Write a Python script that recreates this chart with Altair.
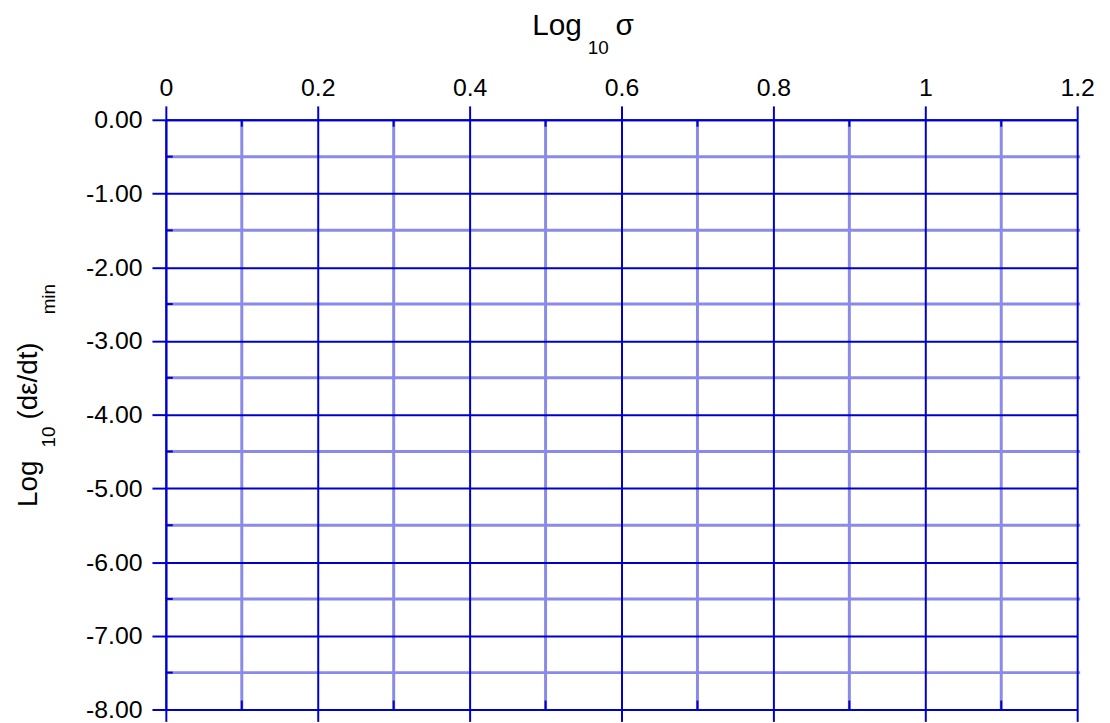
import altair as alt
import pandas as pd

# ---- data (axis ticks / labels) ----
x_ticks = [0, 0.2, 0.4, 0.6, 0.8, 1.0, 1.2]
x_minor = [0.1, 0.3, 0.5, 0.7, 0.9, 1.1]
y_ticks = [0, -1, -2, -3, -4, -5, -6, -7, -8]
y_minor = [-0.5, -1.5, -2.5, -3.5, -4.5, -5.5, -6.5, -7.5]
x_domain = [0, 1.2]
y_domain = [-8, 0]

top_title = ["Log", "10", "\u03c3"]
left_title = ["Log", "10", "(d\u03b5/dt)", "min"]

# ---- style ----
FONT = "Liberation Sans"
MAJOR = "#0000CC"
MINOR = "#8a8ae8"
W, H = 918, 594

xs = alt.Scale(domain=x_domain, nice=False, zero=False)
ys = alt.Scale(domain=y_domain, nice=False, zero=False)

common = dict(
    tickColor=MAJOR, tickWidth=2, domainColor=MAJOR, domainWidth=2,
    labelFont=FONT, labelFontSize=25, labelColor="black",
    title=None, zindex=1, labelFlush=False, labelOverlap=False,
)

top_axis = alt.Axis(orient="top", values=x_ticks, format="~g", grid=True,
                    gridColor=MAJOR, gridWidth=2, gridOpacity=1,
                    tickSize=14, labelPadding=5, **common)
bottom_axis = alt.Axis(orient="bottom", values=x_ticks, labels=False, grid=False,
                       tickSize=12, **common)
left_axis = alt.Axis(orient="left", values=y_ticks, grid=True,
                     gridColor=MAJOR, gridWidth=2, gridOpacity=1,
                     tickSize=14, labelPadding=10,
                     labelExpr="replace(format(datum.value, '.2f'), '\u2212', '-')",
                     **common)

df_xm = pd.DataFrame({"xm": x_minor})
df_ym = pd.DataFrame({"ym": y_minor})

minor_v = alt.Chart(df_xm).mark_rule(color=MINOR, strokeWidth=3).encode(
    x=alt.X("xm:Q", scale=xs, axis=top_axis),
    y=alt.value(0), y2=alt.value(H + 1),
)
minor_h = alt.Chart(df_ym).mark_rule(color=MINOR, strokeWidth=3).encode(
    y=alt.Y("ym:Q", scale=ys, axis=left_axis),
    x=alt.value(0), x2=alt.value(W + 3),
)
ticks_top = alt.Chart(df_xm).mark_rule(color=MAJOR, strokeWidth=2).encode(
    x=alt.X("xm:Q", scale=xs, axis=bottom_axis),
    y=alt.value(0), y2=alt.value(7),
)
ticks_bottom = alt.Chart(df_xm).mark_rule(color=MAJOR, strokeWidth=2).encode(
    x=alt.X("xm:Q", scale=xs, axis=None),
    y=alt.value(H - 9), y2=alt.value(H),
)
ticks_left = alt.Chart(df_ym).mark_rule(color=MAJOR, strokeWidth=2).encode(
    y=alt.Y("ym:Q", scale=ys, axis=None),
    x=alt.value(0), x2=alt.value(7),
)


def txt(s, x, y, size, angle=0):
    return alt.Chart(pd.DataFrame({"t": [s]})).mark_text(
        align="left", baseline="alphabetic", font=FONT, fontSize=size,
        angle=angle, color="black",
    ).encode(text="t:N", x=alt.value(x), y=alt.value(y))


titles = [
    txt(top_title[0], 369, -85, 30),
    txt(top_title[1], 425, -66, 19),
    txt(top_title[2], 453, -85, 30),
    txt(left_title[0], -130, 390, 28, 270),
    txt(left_title[1], -112, 330, 19, 270),
    txt(left_title[2], -130, 302, 28, 270),
    txt(left_title[3], -112, 196, 19, 270),
]

chart = alt.layer(minor_v, minor_h, ticks_top, ticks_bottom, ticks_left, *titles).resolve_axis(
    x="independent", y="independent"
).properties(
    width=W, height=H,
    padding={"left": 159, "top": 110, "right": 25, "bottom": 11},
    autosize=alt.AutoSizeParams(type="none"),
    background="white",
).configure_view(stroke=None)

chart.save("out.html", embed_options={"renderer": "svg", "actions": False})
